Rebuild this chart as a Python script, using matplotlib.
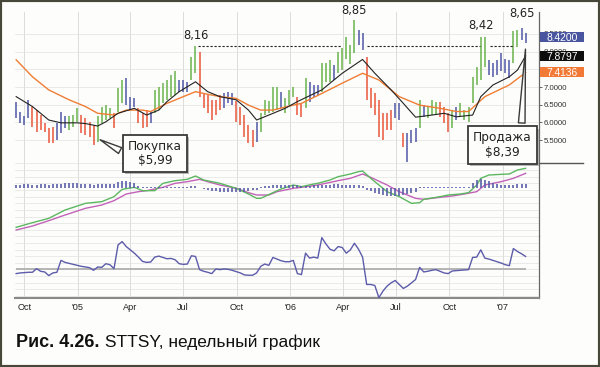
import matplotlib
matplotlib.use("Agg")
import matplotlib.pyplot as plt
import matplotlib.dates as mdates
import matplotlib.transforms as mtransforms
import matplotlib.patheffects as pe
from matplotlib.patches import Rectangle
from matplotlib.lines import Line2D
from matplotlib.ticker import MultipleLocator, FuncFormatter
import numpy as np
import pandas as pd

# --- data: STTSY weekly bars ---
first_week = "2004-09-17"

highs = [6.59, 6.31, 6.17, 6.64, 6.45, 6.35, 6.21, 5.98, 5.84, 5.88,
         5.98, 6.31, 6.17, 6.17, 6.21, 6.40, 6.21, 6.12, 6.02, 5.93,
         6.17, 6.45, 6.50, 6.40, 6.26, 6.96, 7.20, 7.25, 6.73, 6.68,
         6.40, 6.26, 6.35, 6.31, 6.92, 7.01, 7.11, 7.20, 7.34, 7.44,
         7.20, 7.20, 7.15, 7.86, 8.16, 8.00, 6.82, 6.78, 6.64, 6.64,
         6.78, 6.82, 6.87, 6.82, 6.60, 6.44, 6.20, 5.92, 5.80, 6.00,
         6.28, 6.64, 6.60, 7.01, 7.01, 6.87, 6.68, 6.92, 7.01, 6.73,
         6.54, 7.25, 7.15, 7.06, 7.06, 7.67, 7.67, 7.77, 7.62, 8.00,
         8.10, 8.40, 8.20, 8.88, 8.60, 8.52, 7.86, 6.96, 6.82, 6.64,
         6.26, 6.26, 6.35, 6.54, 6.54, 5.69, 5.69, 5.79, 5.84, 6.64,
         6.50, 6.45, 6.64, 6.59, 6.59, 6.45, 6.26, 6.35, 6.45, 6.54,
         6.35, 6.45, 7.29, 7.58, 8.42, 8.42, 7.77, 7.67, 7.77, 7.95,
         7.78, 7.77, 8.57, 8.61, 8.66, 8.52]

lows = [6.12, 5.98, 5.93, 6.12, 5.88, 5.74, 5.79, 5.74, 5.41, 5.41,
        5.51, 5.69, 5.84, 5.79, 5.88, 6.02, 5.69, 5.65, 5.60, 5.36,
        5.46, 5.98, 6.07, 6.12, 5.84, 6.31, 6.54, 6.50, 6.35, 6.45,
        5.98, 5.84, 5.88, 5.98, 6.26, 6.35, 6.54, 6.64, 6.73, 6.78,
        6.87, 6.87, 6.87, 7.20, 7.39, 6.73, 6.40, 6.26, 6.07, 6.21,
        6.35, 6.40, 6.54, 6.50, 6.02, 5.93, 5.58, 5.42, 5.32, 5.45,
        5.72, 6.21, 6.28, 6.31, 6.35, 6.40, 6.26, 6.49, 6.73, 6.21,
        6.16, 6.40, 6.59, 6.73, 6.78, 6.87, 7.15, 7.15, 7.20, 7.40,
        7.48, 7.80, 7.65, 7.95, 8.19, 8.05, 6.64, 6.40, 6.21, 5.60,
        5.51, 5.79, 5.79, 6.12, 6.07, 5.32, 4.89, 5.41, 5.46, 5.84,
        6.16, 6.12, 6.21, 6.21, 6.16, 5.98, 5.74, 5.84, 6.07, 6.16,
        6.07, 6.02, 6.54, 7.06, 7.20, 7.58, 7.34, 7.29, 7.34, 7.44,
        7.39, 7.25, 7.67, 8.14, 8.33, 8.24]

# impulse colour of each bar: g = up, r = down, b = neutral
impulse = ("bbbb" "rrrrrr" "bbb" "ggg" "rrrr" "gggg" "r" "gg" "bbb" "rrr" "b"
           "gggggg" "bbb" "gg" "rrrrrr" "bbb" "rrrrr" "b" "ggggg" "b" "ggg"
           "rr" "g" "bbb" "ggg" "b" "ggggg" "bb" "rrrrrrr" "bb" "r" "bbb" "g"
           "b" "ggg" "rrr" "g" "b" "ggggggg" "bbbbbb" "gg" "bb")

# moving averages, sampled at week numbers
ema_fast_wk = [0, 4, 8, 11, 15, 17, 20, 22, 25, 29, 32, 35, 37, 40, 44, 47, 50,
               54, 57, 59, 62, 66, 69, 75, 80, 85, 88, 92, 95, 98, 102, 105,
               108, 112, 114, 117, 121, 123, 125]
ema_fast = [6.73, 6.45, 6.07, 5.99, 5.99, 5.97, 5.90, 6.02, 6.26, 6.40, 6.21,
            6.35, 6.59, 6.87, 7.15, 6.87, 6.73, 6.64, 6.35, 6.07, 6.21, 6.40,
            6.59, 6.92, 7.39, 7.78, 7.39, 6.92, 6.54, 6.15, 6.21, 6.26, 6.16,
            6.21, 6.73, 7.06, 7.29, 7.48, 7.88]
ema_slow_wk = [0, 4, 8, 13, 17, 20, 24, 27, 31, 33, 37, 41, 44, 46, 50, 54, 57,
               60, 63, 68, 70, 75, 80, 85, 89, 94, 99, 104, 108, 111, 115, 121,
               125]
ema_slow = [7.77, 7.29, 6.92, 6.64, 6.45, 6.26, 6.21, 6.35, 6.35, 6.31, 6.54,
            6.73, 6.87, 6.82, 6.73, 6.68, 6.49, 6.35, 6.35, 6.49, 6.54, 6.82,
            7.11, 7.39, 7.20, 6.73, 6.49, 6.40, 6.31, 6.31, 6.73, 7.06, 7.41]

last_close = 8.42
ema_fast_last = 7.8797
ema_slow_last = 7.4136

resist_level = 8.16
peak_bars = [44, 83, 114, 124]
peak_texts = ["8,16", "8,85", "8,42", "8,65"]

# MACD lines (arbitrary units), sampled at week numbers
macd_wk = [0, 4, 8, 12, 17, 21, 24, 26, 29, 31, 34, 36, 39, 42, 44, 46, 50, 54,
           57, 59, 60, 63, 65, 68, 70, 73, 74, 77, 79, 82, 84, 85, 87, 89, 91,
           94, 97, 99, 100, 104, 106, 109, 111, 113, 114, 116, 119, 121, 123,
           125]
macd = [-1.44, -1.16, -0.90, -0.40, 0.00, 0.10, 0.40, 0.84, 0.96, 0.76, 0.76,
        1.20, 1.36, 1.44, 1.64, 1.40, 1.20, 0.90, 0.56, 0.30, 0.30, 0.64, 0.86,
        1.10, 1.00, 1.16, 1.20, 1.40, 1.60, 1.76, 1.90, 1.94, 1.50, 1.10, 0.70,
        0.40, 0.00, 0.04, 0.24, 0.40, 0.50, 0.56, 0.64, 1.10, 1.50, 1.70, 1.74,
        1.76, 2.00, 2.10]
signal_wk = [0, 4, 8, 12, 17, 21, 24, 27, 30, 32, 36, 39, 42, 45, 47, 50, 54,
             57, 59, 62, 64, 68, 70, 74, 79, 82, 85, 87, 91, 94, 98, 100, 104,
             107, 110, 113, 115, 119, 122, 125]
signal = [-1.60, -1.36, -1.04, -0.70, -0.30, -0.10, 0.16, 0.56, 0.70, 0.76,
          0.96, 1.20, 1.30, 1.44, 1.30, 1.10, 0.90, 0.64, 0.50, 0.50, 0.70,
          0.90, 0.96, 1.10, 1.36, 1.50, 1.76, 1.56, 1.10, 0.70, 0.30, 0.24,
          0.36, 0.44, 0.56, 0.70, 1.10, 1.30, 1.50, 1.80]

macd_hist = [0.8, 0.8, 0.9, 0.9, 0.8, 0.8, 0.9, 0.9, 0.8, 0.9, 0.9, 1.0,
             1.2, 1.3, 1.3, 1.2,
             1.0, 0.9, 0.9, 0.8, 0.9, 1.0, 1.0, 0.9, 1.0,
             1.5, 1.7, 1.8, 1.6, 1.3,
             0.6, 0.3, 0.2, 0.2,
             0.2, 0.2, 0.3, 0.3, 0.3, 0.3, 0.2, 0.2, 0.3, 0.4, 0.4, 0.1,
             -0.3, -0.5, -0.7, -0.8, -0.9, -1.0, -1.0, -1.1, -1.0, -1.0, -0.9,
             -0.8, -0.6, -0.4,
             0.3, 0.5, 0.6, 0.7, 0.7, 0.8, 0.8, 0.8, 0.7, 0.7, 0.6,
             0.6, 0.6, 0.7, 0.8, 0.8, 0.8, 0.8, 0.9, 0.9, 0.8, 0.8, 0.8, 0.8,
             0.7, 0.5,
             -0.4, -0.8, -1.2, -1.5, -1.7, -1.9, -2.0, -2.0, -1.9, -1.8, -1.6,
             -1.3, -1.0,
             0.15, 0.15, 0.15, 0.15, 0.15, 0.15, 0.15, 0.15, 0.15, 0.15, 0.15,
             0.15, 0.15,
             1.2, 2.0, 2.3, 2.1, 1.7,
             1.3, 1.0, 0.8, 0.7, 0.7,
             0.8, 0.9, 1.0, 0.9]

# lower oscillator (arbitrary units)
osc = [-1.3, -1.1, -1.0, -0.9, -0.9, 0.2, -0.6, -0.8, -1.9, -1.1,
       -0.9, 2.7, 2.1, 1.8, 1.5, 1.2, 0.9, 0.7, 0.5, -0.3,
       0.7, 0.6, 1.7, 1.4, 0.2, 7.4, 8.4, 6.9, 5.9, 4.9,
       3.7, 2.4, 2.1, 2.2, 3.7, 4.0, 3.6, 3.2, 3.3, 2.9,
       1.7, 1.5, 1.6, 4.1, 3.9, -0.1, -0.6, -0.9, -1.3, 0.1,
       -0.1, 0.1, 0.0, -0.3, -0.7, -1.1, -1.7, -1.8, -1.8, -1.1,
       0.9, 1.6, 1.2, 3.6, 3.1, 2.6, 2.3, 2.3, 2.7, -1.3,
       -1.6, 4.9, 3.4, 3.7, 3.4, 9.6, 7.7, 6.1, 5.6, 6.9,
       6.6, 4.9, 5.9, 7.9, 6.1, 3.7, -4.6, -4.6, -4.9, -8.6,
       -6.6, -5.1, -4.1, -3.4, -4.6, -5.8, -5.1, -4.1, -3.1, 0.6,
       -0.8, -0.6, -0.3, -0.1, -0.6, -1.1, -1.3, -0.5, -0.4, -0.3,
       -0.2, -0.1, 3.6, 3.7, 5.9, 3.4, 3.1, 2.7, 2.3, 1.9,
       1.4, 1.1, 6.3, 5.4, 4.7, 3.9]

n = len(highs)
assert len(lows) == n and len(impulse) == n and len(osc) == n and len(macd_hist) == n

# --- colours / layout ---
BG = "#fdfdfb"
GREEN, RED, BLUE = "#69b34c", "#e9563a", "#5058a6"
bar_color = {"g": GREEN, "r": RED, "b": BLUE}
GRID = "#e2e2e2"
W, H = 600, 367

dates = pd.date_range(first_week, periods=n, freq="7D")
x = mdates.date2num(dates)
x0 = x[0]

def wk(i):
    return x0 + np.asarray(i, dtype=float) * 7

fig = plt.figure(figsize=(W / 100, H / 100), dpi=100, facecolor=BG)

def panel(top, bottom):
    return [15 / W, 1 - bottom / H, 524 / W, (bottom - top) / H]

ax_p = fig.add_axes(panel(12, 163))
ax_m = fig.add_axes(panel(163, 236), sharex=ax_p)
ax_o = fig.add_axes(panel(236, 298), sharex=ax_p)
ax_p.set_zorder(3)

for ax in (ax_p, ax_m, ax_o):
    ax.set_facecolor("none")
    for side in ("top", "left", "bottom"):
        ax.spines[side].set_visible(False)
    ax.spines["right"].set_color("#666666")
    ax.spines["right"].set_linewidth(0.9)
    ax.xaxis.set_major_locator(mdates.MonthLocator(bymonth=[1, 4, 7, 10]))
    ax.grid(True, axis="x", color="#dcdcdc", lw=0.7)
    ax.grid(True, axis="y", color=GRID, lw=0.5)
    ax.set_axisbelow(True)

ax_p.set_xlim(x0 - 2, x0 + 898)

# --- price panel ---
ax_p.vlines(x, lows, highs, colors=[bar_color[c] for c in impulse], lw=1.1, zorder=2)
ax_p.plot(wk(ema_slow_wk), ema_slow, color="#f07d34", lw=1.0, zorder=3)
ax_p.plot(wk(ema_fast_wk), ema_fast, color="#222222", lw=0.8, zorder=3)

for a, b in [(44.5, 80.0), (86.2, 113.8), (116.2, 122.0)]:
    ax_p.plot(wk([a, b]), [resist_level, resist_level], color="#222222",
              lw=0.8, dashes=(2, 1.6), zorder=3)

for i, txt, dy in zip(peak_bars, peak_texts, [3, 2.5, 3.5, 6]):
    ax_p.annotate(txt, xy=(x[i], highs[i]), xytext=(0, dy), textcoords="offset points",
                  ha="center", va="bottom", fontsize=8.3, color="#222222",
                  annotation_clip=False, family="DejaVu Sans")

ax_p.set_ylim(4.856, 9.12)
ax_p.yaxis.tick_right()
ax_p.set_yticks(np.arange(5.5, 8.51, 0.5))
ax_p.yaxis.set_major_formatter(FuncFormatter(lambda v, p: f"{v:.4f}"))
ax_p.tick_params(axis="y", length=2.5, width=0.7, pad=1, labelsize=5.6,
                 labelcolor="#333333", color="#666666")
ax_p.tick_params(axis="x", bottom=False, labelbottom=False)
for lab in ax_p.get_yticklabels():
    lab.set_family("Liberation Sans")

# value tags on the right axis (they cover the tick labels behind them, as in the original)
trans = mtransforms.blended_transform_factory(ax_p.transAxes, ax_p.transData)
for val, col in zip([last_close, ema_fast_last, ema_slow_last],
                    ["#4a559f", "#0d0d0d", "#f27a36"]):
    ax_p.add_patch(Rectangle((1.002, val - 0.14), 0.084, 0.28, transform=trans,
                             facecolor=col, edgecolor="none", clip_on=False, zorder=5))
    ax_p.text(1.044, val, f"{val:.4f}", transform=trans, ha="center",
              va="center_baseline", color="white", fontsize=7.4, clip_on=False,
              zorder=6, family="Liberation Sans")

fig.add_artist(Line2D([539 / W, 583 / W], [1 - 163 / H] * 2, transform=fig.transFigure,
                      color="#555555", lw=1.0))

# callouts
box_kw = dict(boxstyle="square,pad=0.4", fc=BG, ec="#3a3a3a", lw=1.3)
shadow = [pe.SimplePatchShadow(offset=(1.5, -1.5), shadow_rgbFace="#999999", alpha=0.7),
          pe.Normal()]
for txt, bar, price, pos, rel in [("Покупка\n$5,99", 20, 5.55, (155, H - 153.5), (0.0, 0.45)),
                                  ("Продажа\n$8,39", 125, 8.15, (502.5, H - 145), (0.82, 1.0))]:
    an = ax_p.annotate(txt, xy=(x[bar], price), xytext=pos, textcoords="figure pixels",
                       ha="center", va="center", fontsize=8.7, linespacing=1.15,
                       color="#222222", bbox=box_kw, annotation_clip=False, zorder=10,
                       arrowprops=dict(arrowstyle="wedge,tail_width=0.55", fc=BG,
                                       ec="#3a3a3a", lw=1.0, relpos=rel))
    an.get_bbox_patch().set_path_effects(shadow)

# --- MACD panel ---
ax_m.plot(wk(signal_wk), signal, color="#c262b8", lw=1.0)
ax_m.plot(wk(macd_wk), macd, color="#5cb860", lw=1.0)
ax_m.set_ylim(-1.96, 2.42)
ax_m.yaxis.set_major_locator(MultipleLocator(0.4))

ax_h = ax_m.twinx()
ax_h.vlines(x, 0, macd_hist, colors="#5a5fa8", lw=1.2)
ax_h.set_ylim(-12, 6.25)
ax_h.axis("off")

# twinx turns the left ticks back on, so switch them off afterwards
ax_m.tick_params(axis="y", left=False, right=False, labelleft=False, labelright=False)
ax_m.tick_params(axis="x", bottom=False, labelbottom=False)

# --- oscillator panel ---
ax_o.hlines(0, x[0], x[-1], color="#b0b0b0", lw=1.3, zorder=2)
ax_o.plot(x, osc, color="#5c5cab", lw=1.0, zorder=3)
ax_o.set_ylim(-8.7, 10.1)
ax_o.yaxis.set_major_locator(MultipleLocator(2))
ax_o.tick_params(axis="y", left=False, right=False, labelleft=False, labelright=False)
ax_o.spines["bottom"].set_visible(True)
ax_o.spines["bottom"].set_color("#8a8a8a")
ax_o.spines["bottom"].set_linewidth(1.5)

def month_label(v, pos):
    d = mdates.num2date(v)
    return d.strftime("'%y") if d.month == 1 else d.strftime("%b")

ax_o.xaxis.set_major_formatter(FuncFormatter(month_label))
ax_o.tick_params(axis="x", length=0, pad=3.5, labelsize=6.6, labelcolor="#222222")
for lab in ax_o.get_xticklabels():
    lab.set_family("Liberation Sans")

# --- caption and frame ---
t1 = fig.text(16 / W, 1 - 347 / H, "Рис. 4.26.", fontsize=13, fontweight="bold",
              family="Liberation Sans", va="baseline", color="#111111")
bb = t1.get_window_extent(fig.canvas.get_renderer())
fig.text(bb.x1 / W, 1 - 347 / H, " STTSY, недельный график", fontsize=12.5,
         family="Liberation Sans", va="baseline", color="#111111")

fig.add_artist(Rectangle((0, 0), 1, 1, transform=fig.transFigure, fill=False,
                         ec="#47473a", lw=3))

fig.savefig("out.png", dpi=100, facecolor=fig.get_facecolor())
